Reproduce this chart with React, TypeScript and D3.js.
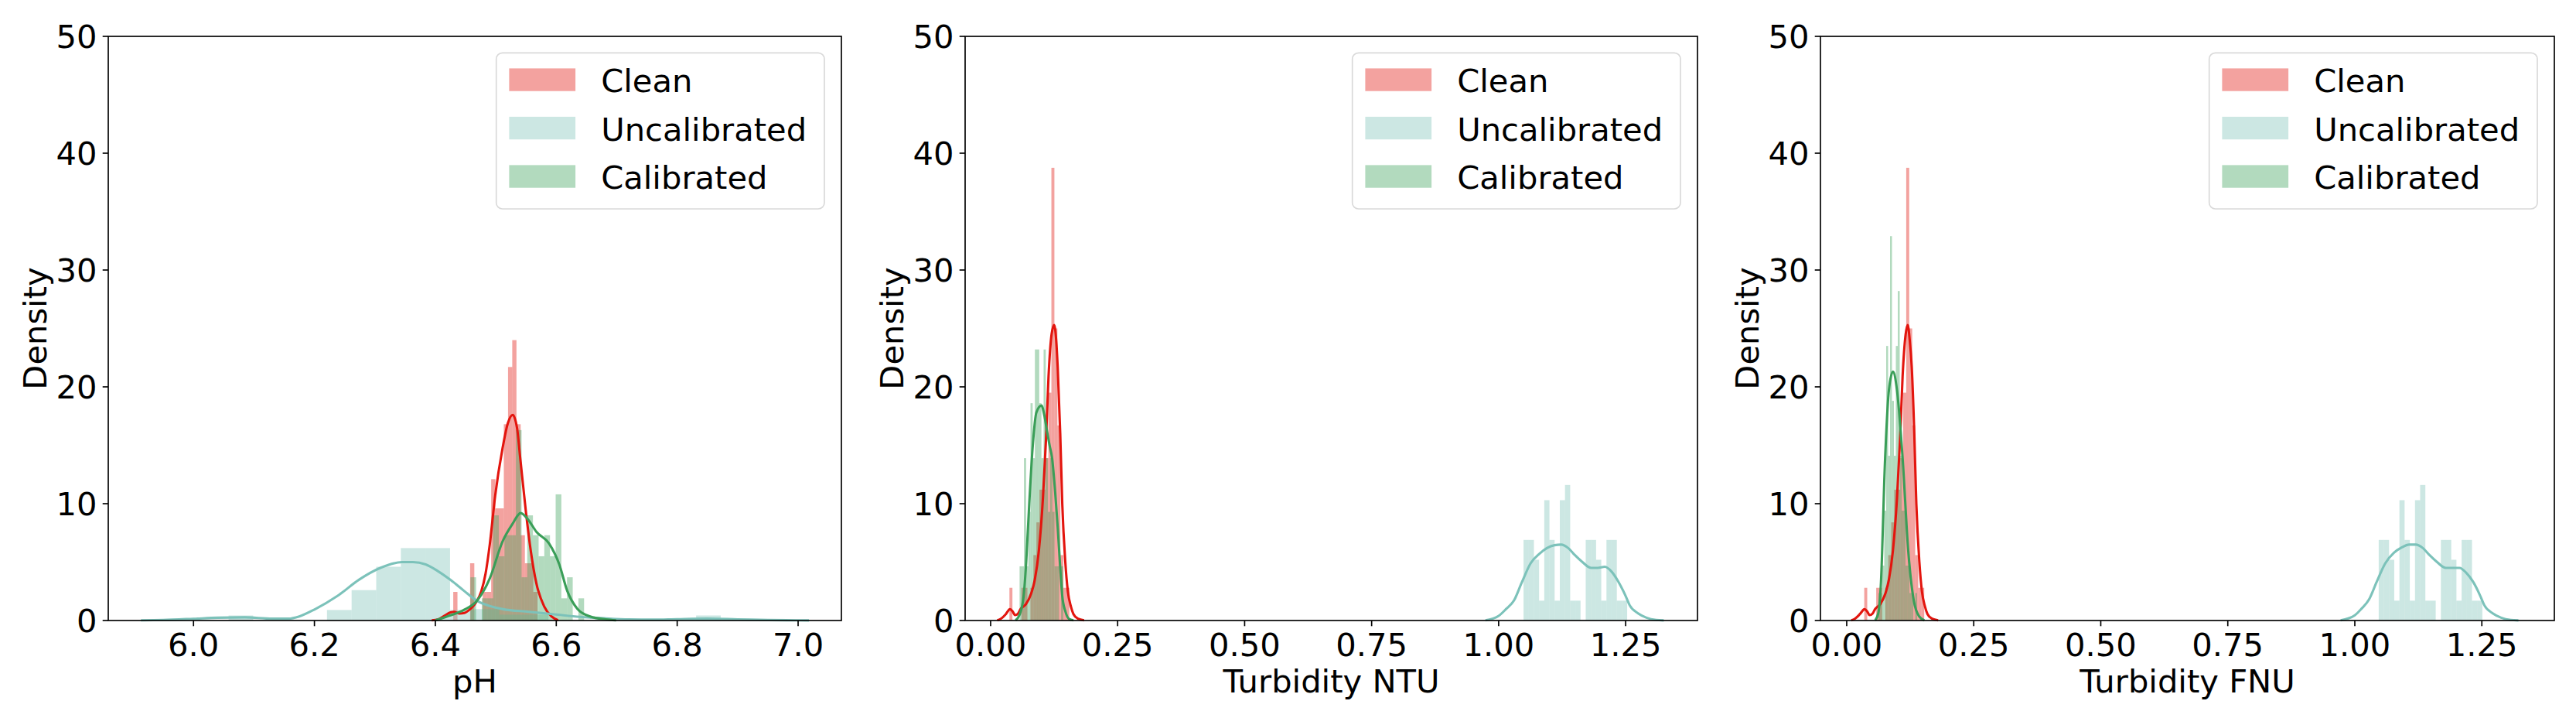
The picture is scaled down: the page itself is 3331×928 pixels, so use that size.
import React from 'react';
import * as d3 from 'd3';

// ---------------- DATA ----------------
const seriesNames = ['Clean', 'Uncalibrated', 'Calibrated'];
const yTicks = [0, 10, 20, 30, 40, 50];
const phTicks = [6.0, 6.2, 6.4, 6.6, 6.8, 7.0];
const turbTicks = [0, 0.25, 0.5, 0.75, 1.0, 1.25];
const xLabels = ['pH', 'Turbidity NTU', 'Turbidity FNU'];

// histograms: first bin edge, bin width, densities
const phCleanBins = { start: 6.4296, width: 0.00697 };
const phCleanHeights = [2.45, 0, 0, 0, 4.9, 0, 0, 2.45, 2.45, 12.1, 9.6, 9.6, 16.8, 21.7, 24.0, 16.8, 7.3, 4.9, 4.9, 2.45];
const phUncalBins = { start: 6.058, width: 0.0407 };
const phUncalHeights = [0.43, 0, 0, 0, 0.9, 2.6, 4.6, 6.2, 6.2, 0.9, 0.97, 0.5, 0.5, 0, 0, 0, 0, 0, 0, 0.43];
const phCalBins = { start: 6.458, width: 0.0094 };
const phCalHeights = [3.7, 0, 1.9, 1.9, 9.0, 5.5, 7.3, 7.3, 16.3, 3.7, 9.0, 7.3, 5.5, 7.3, 5.5, 10.8, 1.9, 3.7, 0, 1.9];

const ntuCleanBins = { start: 0.037, width: 0.0059 };
const ntuCleanHeights = [2.8, 0, 0, 0, 2.8, 2.8, 0, 2.8, 5.6, 8.4, 11.2, 11.2, 13.9, 19.5, 38.75, 25.0, 16.7, 5.6, 2.8, 2.8];
const ntuUncalBins = { start: 1.049, width: 0.0102 };
const ntuUncalHeights = [6.9, 6.9, 5.2, 1.7, 10.3, 6.9, 1.7, 10.3, 11.6, 1.7, 1.7, 0, 6.9, 6.9, 5.2, 1.7, 6.9, 6.9, 1.7, 1.7];
const ntuCalBins = { start: 0.057, width: 0.0043 };
const ntuCalHeights = [4.64, 4.64, 13.9, 4.64, 9.3, 18.6, 13.9, 23.2, 23.2, 18.6, 13.9, 23.2, 13.9, 9.3, 13.9, 9.3, 4.64, 4.64, 0, 4.64];

const fnuCleanBins = { start: 0.0345, width: 0.0059 };
const fnuCleanHeights = [2.8, 0, 0, 0, 2.8, 2.8, 0, 2.8, 5.6, 8.4, 11.2, 11.2, 13.9, 19.5, 38.75, 25.0, 16.7, 5.6, 2.8, 2.8];
const fnuUncalBins = { start: 1.047, width: 0.0102 };
const fnuUncalHeights = [6.9, 6.9, 5.2, 1.7, 10.3, 6.9, 1.7, 10.3, 11.6, 1.7, 1.7, 0, 6.9, 6.9, 5.2, 1.7, 6.9, 6.9, 1.7, 1.7];
const fnuCalBins = { start: 0.0625, width: 0.0038 };
const fnuCalHeights = [2.35, 2.35, 4.7, 9.4, 23.5, 14.1, 32.9, 18.8, 14.1, 23.5, 28.2, 14.1, 9.4, 9.4, 4.7, 4.7, 2.35, 2.35, 0, 2.35];

// KDE curves [x, density]
const phCleanKde: [number, number][] = [[6.394, 0.02], [6.405, 0.1], [6.415, 0.4], [6.425, 0.7], [6.431, 0.75], [6.44, 0.6], [6.448, 0.65], [6.458, 1.0], [6.468, 1.6], [6.476, 2.5], [6.483, 4.0], [6.49, 6.5], [6.499, 10.7], [6.511, 14.7], [6.52, 16.9], [6.528, 17.6], [6.535, 16.5], [6.541, 13.6], [6.55, 9.2], [6.558, 5.9], [6.567, 3.2], [6.58, 1.2], [6.592, 0.35], [6.603, 0.02]];
const phUncalKde: [number, number][] = [[5.913, 0.02], [5.95, 0.05], [6.0, 0.15], [6.04, 0.24], [6.085, 0.27], [6.13, 0.16], [6.157, 0.16], [6.175, 0.35], [6.2, 0.94], [6.238, 2.1], [6.274, 3.5], [6.309, 4.5], [6.345, 5.0], [6.363, 5.0], [6.384, 4.8], [6.405, 4.2], [6.426, 3.44], [6.447, 2.56], [6.469, 1.68], [6.49, 1.24], [6.512, 0.97], [6.554, 0.75], [6.597, 0.53], [6.639, 0.31], [6.682, 0.18], [6.72, 0.1], [6.76, 0.08], [6.8, 0.12], [6.85, 0.16], [6.9, 0.1], [6.95, 0.04], [7.018, 0.01]];
const phCalKde: [number, number][] = [[6.40, 0.02], [6.426, 0.46], [6.447, 0.9], [6.469, 1.7], [6.49, 3.6], [6.511, 6.75], [6.528, 8.3], [6.541, 9.2], [6.554, 8.6], [6.567, 7.6], [6.588, 6.6], [6.605, 4.8], [6.618, 2.56], [6.635, 1.0], [6.656, 0.35], [6.682, 0.1], [6.699, 0.02]];

const ntuCleanKde: [number, number][] = [[0.013, 0.02], [0.02, 0.15], [0.03, 0.55], [0.038, 0.97], [0.043, 0.8], [0.048, 0.46], [0.054, 0.6], [0.059, 0.99], [0.0695, 1.4], [0.0797, 2.3], [0.087, 3.5], [0.095, 6.0], [0.103, 10.5], [0.109, 15.5], [0.114, 20.9], [0.12, 24.5], [0.125, 25.3], [0.129, 24.0], [0.132, 21.7], [0.137, 16.0], [0.141, 10.0], [0.147, 5.0], [0.152, 2.5], [0.158, 1.2], [0.163, 0.55], [0.172, 0.15], [0.184, 0.02]];
const ntuUncalKde: [number, number][] = [[0.974, 0.02], [1.0, 0.4], [1.015, 1.0], [1.03, 1.7], [1.045, 3.2], [1.063, 4.9], [1.08, 5.7], [1.095, 6.2], [1.11, 6.45], [1.123, 6.5], [1.137, 6.2], [1.15, 5.6], [1.165, 5.0], [1.182, 4.5], [1.195, 4.5], [1.209, 4.6], [1.222, 4.2], [1.236, 3.3], [1.25, 2.1], [1.258, 1.3], [1.275, 0.6], [1.291, 0.24], [1.31, 0.05], [1.325, 0.01]];
const ntuCalKde: [number, number][] = [[0.049, 0.02], [0.057, 0.5], [0.065, 2.1], [0.07, 5.0], [0.076, 10.0], [0.083, 15.0], [0.09, 17.8], [0.1, 18.4], [0.106, 17.5], [0.111, 16.2], [0.116, 15.0], [0.121, 13.9], [0.127, 11.0], [0.132, 8.0], [0.137, 4.5], [0.141, 2.1], [0.147, 0.8], [0.154, 0.15], [0.163, 0.01]];

const fnuCleanKde: [number, number][] = [[0.009, 0.02], [0.016, 0.15], [0.026, 0.55], [0.035, 0.97], [0.04, 0.8], [0.045, 0.46], [0.051, 0.6], [0.056, 0.99], [0.066, 1.4], [0.076, 2.3], [0.083, 3.5], [0.091, 6.0], [0.099, 10.5], [0.105, 15.5], [0.11, 20.9], [0.116, 24.5], [0.12, 25.3], [0.124, 24.0], [0.128, 21.7], [0.133, 16.0], [0.137, 10.0], [0.143, 5.0], [0.148, 2.5], [0.154, 1.2], [0.159, 0.55], [0.168, 0.15], [0.18, 0.02]];
const fnuUncalKde: [number, number][] = [[0.972, 0.02], [1.0, 0.45], [1.013, 1.0], [1.028, 1.8], [1.043, 3.3], [1.06, 4.9], [1.077, 5.8], [1.092, 6.25], [1.107, 6.5], [1.12, 6.5], [1.134, 6.2], [1.147, 5.6], [1.162, 5.0], [1.179, 4.5], [1.192, 4.5], [1.206, 4.5], [1.219, 4.1], [1.233, 3.3], [1.247, 2.1], [1.255, 1.3], [1.272, 0.6], [1.288, 0.24], [1.307, 0.05], [1.322, 0.01]];
const fnuCalKde: [number, number][] = [[0.056, 0.02], [0.062, 0.6], [0.067, 2.9], [0.0756, 13.9], [0.083, 19.7], [0.091, 21.3], [0.099, 19.7], [0.11, 13.9], [0.121, 6.0], [0.132, 1.7], [0.1425, 0.35], [0.153, 0.01]];

// ---------------- STYLE / LAYOUT ----------------
const W = 3331, H = 928;
const TOP = 47, BOTTOM = 802;
const FONT = '"DejaVu Sans", sans-serif';
const FS = 41.67;
const barColors = ['#e0160f', '#80c2ba', '#3ea25c'];
const lineColors = ['#e3150e', '#7cc2ba', '#3a9e58'];

type Bins = { start: number; width: number };
interface PanelSpec {
  left: number; right: number; domain: [number, number];
  ticks: number[]; fmt: (v: number) => string; xLabel: string;
  hists: { bins: Bins; heights: number[] }[];
  kdes: [number, number][][];
}

const panels: PanelSpec[] = [
  {
    left: 140, right: 1088, domain: [5.859, 7.0716], ticks: phTicks, fmt: d3.format('.1f'), xLabel: xLabels[0],
    hists: [{ bins: phCleanBins, heights: phCleanHeights }, { bins: phUncalBins, heights: phUncalHeights }, { bins: phCalBins, heights: phCalHeights }],
    kdes: [phCleanKde, phUncalKde, phCalKde],
  },
  {
    left: 1248, right: 2195, domain: [-0.0502, 1.3914], ticks: turbTicks, fmt: d3.format('.2f'), xLabel: xLabels[1],
    hists: [{ bins: ntuCleanBins, heights: ntuCleanHeights }, { bins: ntuUncalBins, heights: ntuUncalHeights }, { bins: ntuCalBins, heights: ntuCalHeights }],
    kdes: [ntuCleanKde, ntuUncalKde, ntuCalKde],
  },
  {
    left: 2354, right: 3303, domain: [-0.0517, 1.3927], ticks: turbTicks, fmt: d3.format('.2f'), xLabel: xLabels[2],
    hists: [{ bins: fnuCleanBins, heights: fnuCleanHeights }, { bins: fnuUncalBins, heights: fnuUncalHeights }, { bins: fnuCalBins, heights: fnuCalHeights }],
    kdes: [fnuCleanKde, fnuUncalKde, fnuCalKde],
  },
];

function Panel({ p }: { p: PanelSpec }) {
  const x = d3.scaleLinear().domain(p.domain).range([p.left, p.right]);
  const y = d3.scaleLinear().domain([0, 50]).range([BOTTOM, TOP]);
  const line = d3.line<[number, number]>().x(d => x(d[0])).y(d => y(d[1])).curve(d3.curveMonotoneX);
  const legRight = p.right - 22;
  const legLeft = legRight - 424.3;
  const legTop = 68.3;
  return (
    <g>
      {p.hists.map((h, si) => (
        <g key={'h' + si} fill={barColors[si]} fillOpacity={0.4}>
          {h.heights.map((v, i) => {
            if (v <= 0) return null;
            const x0 = x(h.bins.start + i * h.bins.width);
            const x1 = x(h.bins.start + (i + 1) * h.bins.width);
            return <rect key={i} x={x0} y={y(v)} width={Math.max(0, x1 - x0)} height={y(0) - y(v)} />;
          })}
        </g>
      ))}
      {p.kdes.map((k, si) => (
        <path key={'k' + si} d={line(k) || ''} fill="none" stroke={lineColors[si]} strokeWidth={3.1} strokeLinejoin="round" />
      ))}
      <rect x={p.left} y={TOP} width={p.right - p.left} height={BOTTOM - TOP} fill="none" stroke="#000" strokeWidth={1.67} />
      {yTicks.map(t => (
        <g key={'y' + t}>
          <line x1={p.left - 7.3} x2={p.left} y1={y(t)} y2={y(t)} stroke="#000" strokeWidth={1.67} />
          <text x={p.left - 14.6} y={y(t) + 15.2} textAnchor="end" fontFamily={FONT} fontSize={FS}>{t}</text>
        </g>
      ))}
      {p.ticks.map(t => (
        <g key={'x' + t}>
          <line x1={x(t)} x2={x(t)} y1={BOTTOM} y2={BOTTOM + 7.3} stroke="#000" strokeWidth={1.67} />
          <text x={x(t)} y={848} textAnchor="middle" fontFamily={FONT} fontSize={FS}>{p.fmt(t)}</text>
        </g>
      ))}
      <text x={(p.left + p.right) / 2} y={895} textAnchor="middle" fontFamily={FONT} fontSize={FS}>{p.xLabel}</text>
      <text transform={`translate(${p.left - 80},${(TOP + BOTTOM) / 2}) rotate(-90)`} textAnchor="middle" fontFamily={FONT} fontSize={FS}>Density</text>
      <rect x={legLeft} y={legTop} width={424.3} height={201.7} rx={8} ry={8} fill="#fff" fillOpacity={0.8} stroke="#d9d9d9" strokeWidth={1.67} />
      {seriesNames.map((n, i) => {
        const cy = 103 + i * 62.5;
        return (
          <g key={'l' + i}>
            <rect x={legLeft + 16.7} y={cy - 14.6} width={85.7} height={29.3} fill={barColors[i]} fillOpacity={0.4} />
            <text x={legLeft + 135.5} y={cy + 16} fontFamily={FONT} fontSize={FS}>{n}</text>
          </g>
        );
      })}
    </g>
  );
}

export default function App() {
  return (
    <svg width={W} height={H} style={{ position: 'absolute', left: 0, top: 0, background: '#fff' }}>
      <rect x={0} y={0} width={W} height={H} fill="#fff" />
      {panels.map((p, i) => <Panel key={i} p={p} />)}
    </svg>
  );
}
